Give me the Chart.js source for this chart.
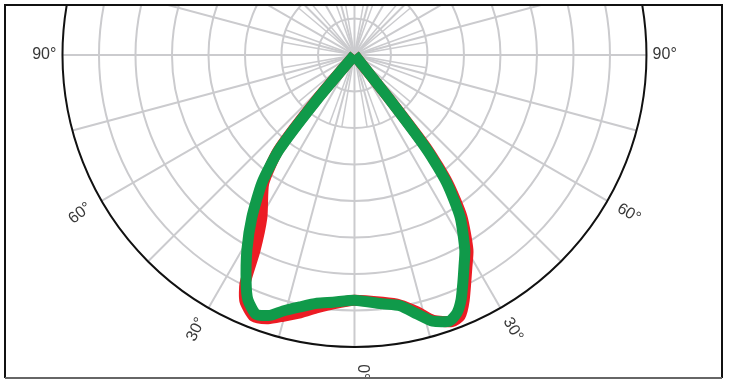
<!DOCTYPE html>
<html>
<head>
<meta charset="utf-8">
<style>
  html, body { margin: 0; padding: 0; background: #fff; }
  #wrap { width: 731px; height: 380px; position: relative; }
</style>
</head>
<body>
<div id="wrap"><canvas id="polarChart"></canvas></div>
<script src="https://cdn.jsdelivr.net/npm/chart.js@4.4.1/dist/chart.umd.min.js"></script>
<script>
// gamma angle from nadir (0 = straight down), negative = left half, intensity in cd/klm
const greenAngles = [-90, -40, -38.5, -35.9, -32.3, -28.9, -25.4, -23.5, -20.8, -18.0, -15.6, -12.2, -8.6, -5, 0, 6.5, 10.3, 13.6, 16.4, 19.7, 21.7, 23.5, 25.4, 27.3, 29.5, 33.1, 35.8, 37.4, 38.3, 90];
const greenValues = [0, 80, 166, 216, 263, 305, 346, 366, 380, 375, 364, 353, 344, 340, 336, 343, 349, 365, 380, 387, 380, 366, 346, 327, 307, 265, 216, 164, 78, 0];

const redAngles = [-90, -40.3, -38.6, -35.3, -29.7, -27.0, -25.6, -24.0, -21.0, -18.1, -15.3, -11.9, -8.4, -4.9, 0, 6.5, 10.3, 13.7, 16.5, 20.1, 22.0, 24.1, 27.9, 30.2, 33.6, 36.1, 37.7, 38.4, 90];
const redValues = [0, 82, 168, 215, 256, 300, 347, 369, 384, 380, 371, 361, 350, 342, 336, 341, 348, 362, 379, 389, 386, 368, 329, 309, 266, 217, 165, 79, 0];

const ringValues = [50, 100, 150, 200, 250, 300, 350, 400];
const spokeAngles = [0, 15, 30, 45, 60, 75, 90, 105, 120, 135, 150, 165, 180, 195, 210, 225, 240, 255, 270, 285, 300, 315, 330, 345];
const shortSpokeStep = 10;
const shortSpokeValue = 100;
const labelAngles = [-90, -60, -30, 0, 30, 60, 90];
const labelTexts = ["90°", "60°", "30°", "0°", "30°", "60°", "90°"];

const labelRotations = [0, -38, -64, 90, 60, 30, 0];

function toXY(angle, value) {
    const a = angle * Math.PI / 180;
    return { x: value * Math.sin(a), y: -value * Math.cos(a) };
}

const polarGrid = {
    id: "polarGrid",
    beforeDatasetsDraw(chart) {
        const ctx = chart.ctx;
        const xs = chart.scales.x, ys = chart.scales.y;
        const cx = xs.getPixelForValue(0);
        const cy = ys.getPixelForValue(0);
        const k = xs.getPixelForValue(1) - cx;
        const outer = ringValues[ringValues.length - 1];

        const spoke = (a, v) => {
            const p = toXY(a, v);
            ctx.beginPath();
            ctx.moveTo(cx, cy);
            ctx.lineTo(xs.getPixelForValue(p.x), ys.getPixelForValue(p.y));
            ctx.stroke();
        };

        ctx.save();
        ctx.beginPath();
        ctx.rect(6, 6, 715, 372);
        ctx.clip();

        ctx.strokeStyle = "#cbcbce";
        ctx.lineWidth = 2;
        ringValues.slice(0, -1).forEach(v => {
            ctx.beginPath();
            ctx.arc(cx, cy, v * k, 0, Math.PI * 2);
            ctx.stroke();
        });
        spokeAngles.forEach(a => spoke(a, outer));

        ctx.lineWidth = 1.5;
        for (let a = 0; a < 360; a += shortSpokeStep) {
            if (a % 15 !== 0) spoke(a, shortSpokeValue);
        }

        ctx.strokeStyle = "#111";
        ctx.lineWidth = 2;
        ctx.beginPath();
        ctx.arc(cx, cy, outer * k, 0, Math.PI * 2);
        ctx.stroke();
        ctx.restore();
    },
    afterDraw(chart) {
        const ctx = chart.ctx;
        const xs = chart.scales.x, ys = chart.scales.y;

        ctx.save();
        ctx.font = "16px 'Liberation Sans', Arial, sans-serif";
        ctx.fillStyle = "#383838";
        ctx.textAlign = "center";
        ctx.textBaseline = "middle";
        labelAngles.forEach((a, i) => {
            const r = Math.abs(a) === 90 ? 425 : 434;
            const p = toXY(a, r);
            let px = xs.getPixelForValue(p.x);
            let py = ys.getPixelForValue(p.y);
            if (a === 0) px += 8;
            ctx.save();
            ctx.translate(px, py);
            ctx.rotate(labelRotations[i] * Math.PI / 180);
            ctx.fillText(labelTexts[i], 0, 0);
            ctx.restore();
        });

        // frame
        ctx.lineWidth = 2;
        ctx.strokeStyle = "#111";
        ctx.beginPath();
        ctx.moveTo(5, 378); ctx.lineTo(5, 5); ctx.lineTo(722, 5); ctx.lineTo(722, 378);
        ctx.stroke();
        ctx.strokeStyle = "#666";
        ctx.beginPath();
        ctx.moveTo(5, 378); ctx.lineTo(722, 378);
        ctx.stroke();
        ctx.restore();
    }
};

const ctx = document.getElementById("polarChart");

new Chart(ctx, {
    type: "scatter",
    data: {
        datasets: [{
            label: "C0-C180",
            data: greenAngles.map((a, i) => toXY(a, greenValues[i])),
            showLine: true,
            borderColor: "#109a4a",
            borderWidth: 11,
            pointRadius: 0,
            tension: 0.2,
            borderJoinStyle: "round"
        }, {
            label: "C90-C270",
            data: redAngles.map((a, i) => toXY(a, redValues[i])),
            showLine: true,
            borderColor: "#ec1c24",
            borderWidth: 11,
            pointRadius: 0,
            tension: 0.2,
            borderJoinStyle: "round"
        }]
    },
    options: {
        responsive: true,
        maintainAspectRatio: false,
        animation: false,
        layout: { padding: 0 },
        plugins: {
            legend: { display: false },
            tooltip: { enabled: false }
        },
        scales: {
            x: { type: "linear", display: false, bounds: "data", min: -485.6, max: 515.8 },
            y: { type: "linear", display: false, bounds: "data", min: -445.2, max: 75.3 }
        }
    },
    plugins: [polarGrid]
});
</script>
</body>
</html>
